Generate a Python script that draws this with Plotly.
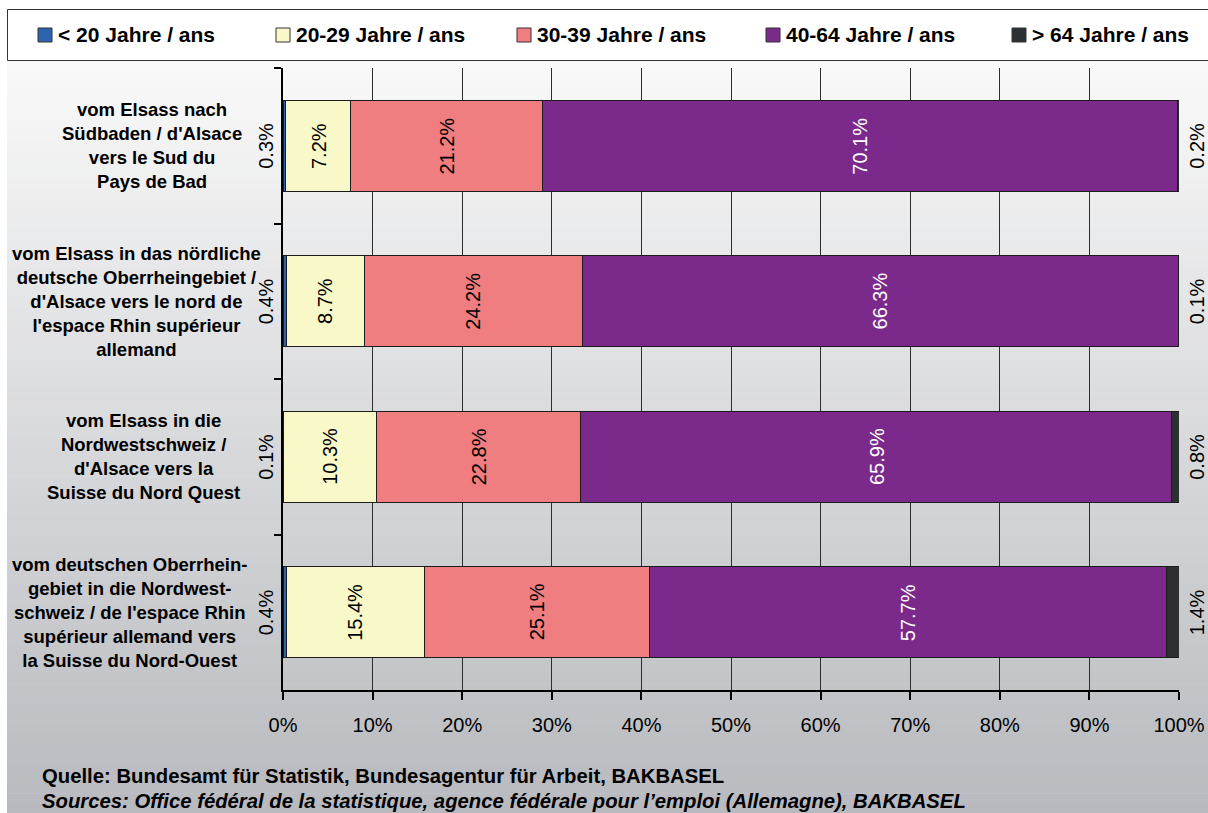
import plotly.graph_objects as go

# Commuter flows (routes) and the age structure of the commuters, in percent
categories = [
    "vom Elsass nach<br>Südbaden / d'Alsace<br>vers le Sud du<br>Pays de Bad",
    "vom Elsass in das nördliche<br>deutsche Oberrheingebiet /<br>d'Alsace vers le nord de<br>l'espace Rhin supérieur<br>allemand",
    "vom Elsass in die<br>Nordwestschweiz /<br>d'Alsace vers la<br>Suisse du Nord Quest",
    "vom deutschen Oberrhein-<br>gebiet in die Nordwest-<br>schweiz / de l'espace Rhin<br>supérieur allemand vers<br>la Suisse du Nord-Ouest",
]
series_names = [
    "< 20 Jahre / ans",
    "20-29 Jahre / ans",
    "30-39 Jahre / ans",
    "40-64 Jahre / ans",
    "> 64 Jahre / ans",
]
under_20 = [0.3, 0.4, 0.1, 0.4]
age_20_29 = [7.2, 8.7, 10.3, 15.4]
age_30_39 = [21.2, 24.2, 22.8, 25.1]
age_40_64 = [70.1, 66.3, 65.9, 57.7]
over_64 = [0.2, 0.1, 0.8, 1.4]
x_tick_values = [0, 10, 20, 30, 40, 50, 60, 70, 80, 90, 100]
source_de = "Quelle: Bundesamt für Statistik, Bundesagentur für Arbeit, BAKBASEL"
source_fr = ("Sources: Office fédéral de la statistique, agence fédérale pour "
             "l’emploi (Allemagne), BAKBASEL")

series_values = [under_20, age_20_29, age_30_39, age_40_64, over_64]
series_colors = ["#2e63b1", "#f9f8c8", "#f07e80", "#7b2a8b", "#2d3033"]
label_colors = ["#000000", "#000000", "#000000", "#ffffff", "#000000"]

FONT = "Liberation Sans, Arial, Helvetica, sans-serif"
W, H = 1208, 813
M_L, M_R, M_T, M_B = 283, 29, 68, 123
PW, PH = W - M_L - M_R, H - M_T - M_B

# legend key positions (left edge of each swatch, in pixels)
legend_key_left = [38, 276, 517, 766, 1012]
LEGEND_MID, KEY = 35, 14


def px_x(px):
    return (px - M_L) / PW


def px_y(py):
    return (H - M_B - py) / PH


fig = go.Figure()
for name, vals, col in zip(series_names, series_values, series_colors):
    fig.add_trace(go.Bar(
        y=categories, x=vals, name=name, orientation="h",
        marker=dict(color=col, line=dict(color="#1c1c1c", width=1)),
        hoverinfo="x+name", showlegend=False,
    ))

shapes = []
# vertical background gradient (light at the top, grey-blue at the bottom)
top_rgb, bot_rgb = (249, 249, 249), (184, 186, 191)
g_top, g_bot, steps = 60, 813, 76
for i in range(steps):
    t = i / (steps - 1)
    c = tuple(round(a + (b - a) * t) for a, b in zip(top_rgb, bot_rgb))
    y0 = g_top + (g_bot - g_top) * i / steps
    y1 = g_top + (g_bot - g_top) * (i + 1) / steps + 0.6
    shapes.append(dict(
        type="rect", xref="paper", yref="paper", layer="below",
        x0=px_x(7), x1=px_x(W + 2), y0=px_y(y0), y1=px_y(y1),
        fillcolor="rgb(%d,%d,%d)" % c, line=dict(width=0),
    ))
# legend frame
shapes.append(dict(
    type="rect", xref="paper", yref="paper", layer="below",
    x0=px_x(7.5), x1=px_x(W + 5), y0=px_y(9.5), y1=px_y(60.5),
    fillcolor="#ffffff", line=dict(color="#333333", width=1),
))

annotations = []
# legend: colour keys and series names
for name, col, kx in zip(series_names, series_colors, legend_key_left):
    shapes.append(dict(
        type="rect", xref="paper", yref="paper", layer="above",
        x0=px_x(kx), x1=px_x(kx + KEY),
        y0=px_y(LEGEND_MID + KEY / 2), y1=px_y(LEGEND_MID - KEY / 2),
        fillcolor=col, line=dict(color="#333333", width=1),
    ))
    annotations.append(dict(
        x=px_x(kx + KEY + 4), y=px_y(LEGEND_MID), xref="paper", yref="paper",
        text=name, showarrow=False, xanchor="left", yanchor="middle",
        font=dict(family=FONT, size=21, color="#000000", weight="bold"),
    ))

# category labels, centred lines left of the axis
label_centres = [152, 136, 143, 129]
for cat, cx in zip(categories, label_centres):
    annotations.append(dict(
        x=0, xref="paper", y=cat, yref="y", xshift=cx - M_L,
        text=cat, showarrow=False, align="center",
        xanchor="center", yanchor="middle",
        font=dict(family=FONT, size=18.5, color="#000000", weight="bold"),
    ))

# value labels (bars are normalised to 100 %)
for r, cat in enumerate(categories):
    row = [vals[r] for vals in series_values]
    total = sum(row)
    cum = 0.0
    for s, v in enumerate(row):
        share = v / total * 100
        centre = cum + share / 2
        cum += share
        text = f"{v:.1f}%"
        if s == 0:
            ax, shift = 0, -17
        elif s == len(row) - 1:
            ax, shift = 100, 18
        else:
            ax, shift = centre, 0
        annotations.append(dict(
            x=ax, y=cat, xref="x", yref="y", xshift=shift,
            text=text, showarrow=False, textangle=-90,
            xanchor="center", yanchor="middle",
            font=dict(family=FONT, size=20, color=label_colors[s]),
        ))

# source lines
annotations.append(dict(
    x=px_x(40), y=px_y(776), xref="paper", yref="paper",
    text=source_de, showarrow=False, xanchor="left", yanchor="middle",
    font=dict(family=FONT, size=20.3, color="#000000", weight="bold"),
))
annotations.append(dict(
    x=px_x(40), y=px_y(801), xref="paper", yref="paper",
    text=source_fr, showarrow=False, xanchor="left", yanchor="middle",
    font=dict(family=FONT, size=20.3, color="#000000", weight="bold",
              style="italic"),
))

fig.update_layout(
    width=W, height=H,
    margin=dict(l=M_L, r=M_R, t=M_T, b=M_B, pad=0, autoexpand=False),
    barmode="stack", barnorm="percent", bargap=0.415,
    paper_bgcolor="#ffffff", plot_bgcolor="rgba(0,0,0,0)",
    font=dict(family=FONT, size=20, color="#000000"),
    shapes=shapes, annotations=annotations,
    showlegend=False,
    xaxis=dict(
        range=[0, 100], tickvals=x_tick_values,
        ticktext=[f"{v}%" for v in x_tick_values],
        showgrid=True, gridcolor="#2e2e2e", gridwidth=1,
        zeroline=False, showline=True, linecolor="#000000", linewidth=2,
        ticks="outside", ticklen=8, tickwidth=2, tickcolor="#000000",
        ticklabelstandoff=8,
        tickfont=dict(family=FONT, size=20, color="#000000"),
        fixedrange=True,
    ),
    yaxis=dict(
        categoryorder="array", categoryarray=categories,
        autorange="reversed", showticklabels=False,
        showgrid=False, zeroline=False,
        showline=True, linecolor="#000000", linewidth=2,
        ticks="outside", tickson="boundaries", ticklen=7, tickwidth=2,
        tickcolor="#000000", fixedrange=True,
    ),
)

fig.write_html("out.html")
